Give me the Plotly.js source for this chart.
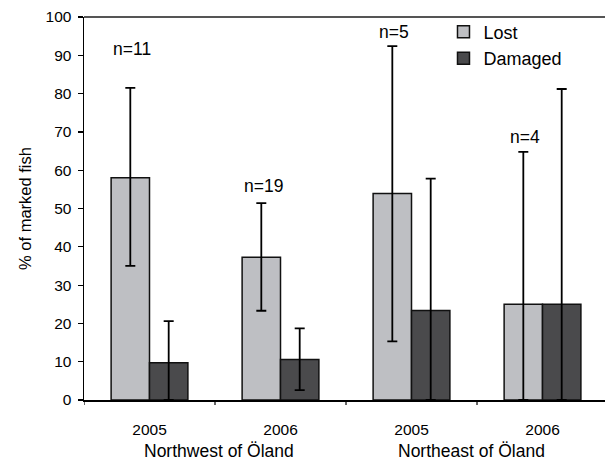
<!DOCTYPE html>
<html>
<head>
<meta charset="utf-8">
<script src="https://cdn.plot.ly/plotly-3.0.1.min.js"></script>
<style>html,body{margin:0;padding:0;background:#fff;}#chart{width:605px;height:461px;}</style>
</head>
<body>
<div id="chart"></div>
<script>
// Data
const years = ['2005', '2006', '2005 ', '2006 '];
const yearLabels = ['2005', '2006', '2005', '2006'];
const groups = ['Northwest of Öland', 'Northeast of Öland'];
const lost = [58.0, 37.3, 53.9, 25.0];
const lostHigh = [81.5, 51.4, 92.4, 64.8];
const lostLow = [35.0, 23.3, 15.3, 0];
const damaged = [9.7, 10.6, 23.4, 25.0];
const damagedHigh = [20.6, 18.7, 57.8, 81.2];
const damagedLow = [0, 2.6, 0, 0];
const nLabels = ['n=11', 'n=19', 'n=5', 'n=4'];
const nHeights = [91.7, 56.0, 96.2, 68.8];

const FONT = '"Liberation Sans", Arial, sans-serif';
const xIdx = years.map((_, i) => i);

function errTrace(name, vals, hi, lo, color) {
  return {
    type: 'bar', name: name, x: xIdx, y: vals,
    marker: {color: color, line: {color: '#111', width: 1.5}},
    error_y: {
      type: 'data', symmetric: false,
      array: vals.map((v, i) => hi[i] - v),
      arrayminus: vals.map((v, i) => v - lo[i]),
      color: '#000', thickness: 1.8, width: 5
    },
    hoverinfo: 'y'
  };
}

const data = [
  errTrace('Lost', lost, lostHigh, lostLow, '#bebfc3'),
  errTrace('Damaged', damaged, damagedHigh, damagedLow, '#4a4a4c')
];

const annotations = nLabels.map((t, i) => ({
  text: t, x: i - 0.13, y: nHeights[i], xref: 'x', yref: 'y',
  showarrow: false, xanchor: 'center', yanchor: 'middle',
  font: {family: FONT, size: 17.5, color: '#000'}
}));
[0.53, 2.46].forEach((gx, g) => annotations.push({
  text: groups[g], x: gx, y: -0.132, xref: 'x', yref: 'paper',
  showarrow: false, xanchor: 'center', yanchor: 'middle',
  font: {family: FONT, size: 17.5, color: '#000'}
}));

const layout = {
  width: 605, height: 461,
  margin: {l: 84, r: 0, t: 17, b: 61},
  paper_bgcolor: '#fff', plot_bgcolor: '#fff',
  font: {family: FONT, color: '#000'},
  barmode: 'group', bargap: 0.414, bargroupgap: 0,
  showlegend: true,
  legend: {
    x: 0.69, y: 1.009, xanchor: 'left', yanchor: 'top',
    bgcolor: 'rgba(0,0,0,0)', borderwidth: 0,
    font: {family: FONT, size: 18, color: '#000'},
    tracegroupgap: 0
  },
  xaxis: {
    type: 'linear', range: [-0.5, 3.477],
    tickmode: 'array', tickvals: xIdx, ticktext: yearLabels,
    ticks: '', showgrid: false, zeroline: false,
    showline: true, linecolor: '#000', linewidth: 1.5,
    tickfont: {family: FONT, size: 15.5, color: '#000'},
    ticklabelstandoff: 15, fixedrange: true
  },
  yaxis: {
    range: [0, 100], dtick: 10, tick0: 0,
    ticks: 'outside', ticklen: 5, tickwidth: 1.2, tickcolor: '#000',
    showgrid: false, zeroline: false,
    showline: true, linecolor: '#000', linewidth: 1.5,
    tickfont: {family: FONT, size: 15.5, color: '#000'},
    ticklabelstandoff: 3,
    title: {text: '% of marked fish', font: {family: FONT, size: 16.5, color: '#000'}, standoff: 10},
    fixedrange: true
  },
  shapes: [
    {type: 'line', xref: 'paper', yref: 'paper', x0: 0, x1: 1, y0: 1, y1: 1,
     line: {color: '#555', width: 2}}
  ].concat([-0.5, 0.5, 1.5, 2.5].map(b => ({
    type: 'line', xref: 'x', yref: 'paper', x0: b, x1: b, y0: 0, y1: -0.013,
    line: {color: '#000', width: 1.2}
  }))),
  annotations: annotations
};

Plotly.newPlot('chart', data, layout, {displayModeBar: false, staticPlot: true});
</script>
</body>
</html>
